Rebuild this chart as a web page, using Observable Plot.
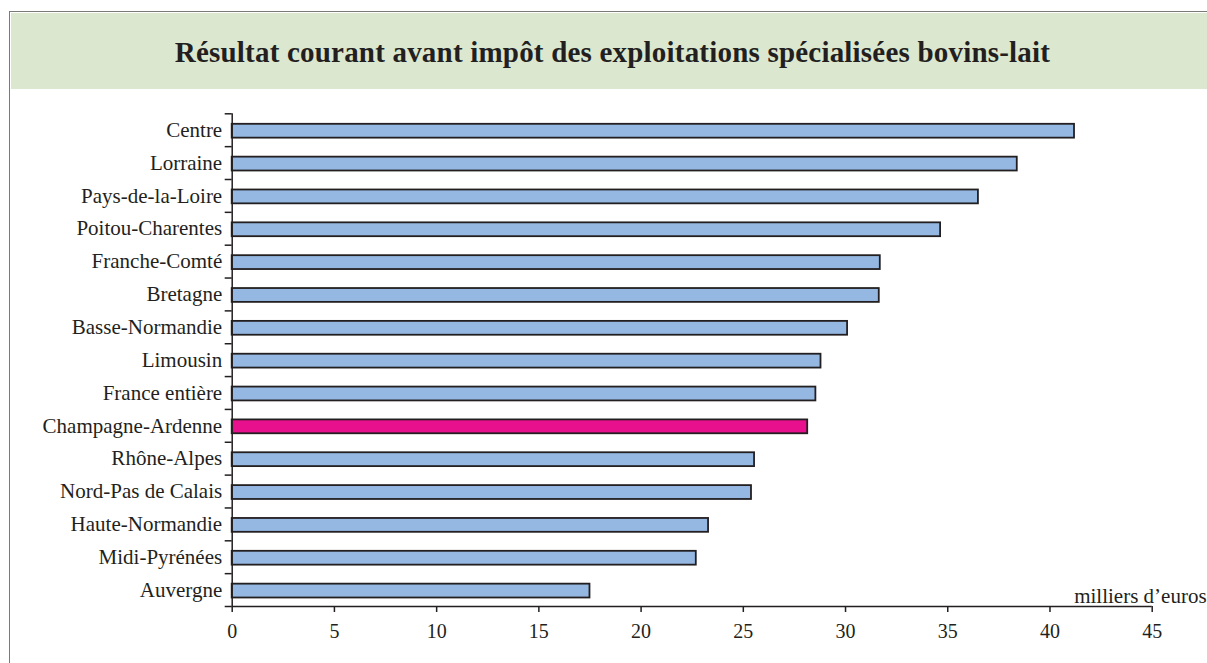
<!DOCTYPE html>
<html>
<head>
<meta charset="utf-8">
<script src="https://cdn.jsdelivr.net/npm/d3@7"></script>
<script src="https://cdn.jsdelivr.net/npm/@observablehq/plot@0.6"></script>
<style>
  html, body { margin: 0; padding: 0; background: #fff; }
  #wrap { position: relative; width: 1207px; height: 663px; overflow: hidden; background: #fff; }
  #chart { position: absolute; left: 0; top: 0; }
  #frame { position: absolute; left: 9px; top: 11px; width: 1300px; height: 800px;
           border-left: 1.5px solid #7a7a7a; border-top: 1.5px solid #7a7a7a; box-sizing: border-box; }
  #band { position: absolute; left: 10.5px; top: 12.5px; width: 1200px; height: 76.5px; background: #dce7cf;
          display: flex; align-items: center; justify-content: center; }
  #title { font-family: "Liberation Serif", "Times New Roman", serif; font-weight: bold; font-size: 29px;
           letter-spacing: 0.2px; color: #231f20; margin-right: -4px; margin-top: 3px; white-space: nowrap; }
</style>
</head>
<body>
<div id="wrap">
  <div id="frame"></div>
  <div id="band"><div id="title"></div></div>
  <div id="chart"></div>
</div>
<script>
const title = "Résultat courant avant impôt des exploitations spécialisées bovins-lait";
const regions = ["Centre", "Lorraine", "Pays-de-la-Loire", "Poitou-Charentes", "Franche-Comté", "Bretagne",
  "Basse-Normandie", "Limousin", "France entière", "Champagne-Ardenne", "Rhône-Alpes",
  "Nord-Pas de Calais", "Haute-Normandie", "Midi-Pyrénées", "Auvergne"];
const values = [41.2, 38.4, 36.5, 34.65, 31.7, 31.65, 30.1, 28.8, 28.55, 28.15, 25.55, 25.4, 23.3, 22.7, 17.5];
const highlight = "Champagne-Ardenne";
const xTicks = [0, 5, 10, 15, 20, 25, 30, 35, 40, 45];
const unitLabel = "milliers d’euros";

document.getElementById("title").textContent = title;

const data = regions.map((region, i) => ({region, value: values[i], i}));
const ink = "#231f20";

const chart = Plot.plot({
  width: 1207,
  height: 663,
  marginLeft: 231.7,
  marginRight: 55.3,
  marginTop: 113.3,
  marginBottom: 57,
  x: {domain: [0, 45]},
  y: {domain: [0, regions.length], reverse: true},
  style: {fontFamily: "'Liberation Serif', 'Times New Roman', serif", background: "transparent", color: ink, overflow: "visible"},
  marks: [
    Plot.rectX(data, {
      x1: () => 0, x2: "value", y1: "i", y2: d => d.i + 1,
      insetTop: 10.5, insetBottom: 8.5,
      fill: d => d.region === highlight ? "#e8108c" : "#95b8e2",
      stroke: ink, strokeWidth: 1.8
    }),
    Plot.ruleX([0], {y1: () => 0, y2: () => regions.length, stroke: ink, strokeWidth: 1.5}),
    Plot.ruleY([regions.length], {stroke: ink, strokeWidth: 1.5}),
    Plot.axisY(d3.range(regions.length + 1), {tickSize: 7, tickFormat: () => "", label: null, stroke: ink, strokeWidth: 1.5}),
    Plot.axisY(regions.map((r, i) => i + 0.5), {
      tickSize: 0, tickPadding: 10, label: null, fontSize: 21, fill: ink,
      tickFormat: d => regions[Math.floor(d)]
    }),
    Plot.axisX(xTicks, {tickSize: 6, tickPadding: 11, label: null, fontSize: 20, fill: ink, stroke: ink, strokeWidth: 1.5}),
    Plot.text([unitLabel], {
      x: () => 45, y: () => regions.length, text: d => d,
      textAnchor: "start", lineAnchor: "bottom", dx: -78, dy: -4, fontSize: 21, fill: ink
    })
  ]
});
document.getElementById("chart").appendChild(chart);
</script>
</body>
</html>
